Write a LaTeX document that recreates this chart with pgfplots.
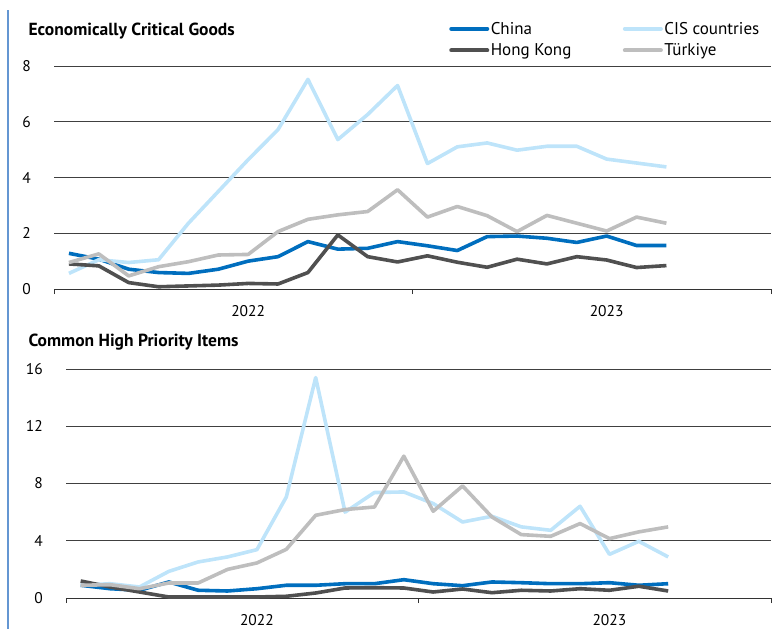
\documentclass[border=0pt]{standalone}
\usepackage{fontspec}
\setmainfont{PT Sans}
\usepackage{pgfplots}
\usepackage{pgfplotstable}
\pgfplotsset{compat=1.18}

\definecolor{chn}{RGB}{0,110,190}
\definecolor{cis}{RGB}{190,228,250}
\definecolor{hkg}{RGB}{80,80,80}
\definecolor{tur}{RGB}{190,190,190}
\definecolor{edge}{RGB}{100,150,210}

% Economically Critical Goods
\pgfplotstableread{
x    chn  cis  hkg  tur
0.5  1.28 0.56 0.90 0.95
1.5  1.07 1.05 0.83 1.26
2.5  0.71 0.95 0.23 0.47
3.5  0.59 1.05 0.08 0.80
4.5  0.56 2.36 0.11 0.98
5.5  0.71 3.50 0.14 1.22
6.5  1.00 4.64 0.20 1.24
7.5  1.16 5.72 0.18 2.06
8.5  1.70 7.52 0.59 2.50
9.5  1.43 5.36 1.94 2.66
10.5 1.46 6.26 1.16 2.78
11.5 1.70 7.30 0.97 3.56
12.5 1.55 4.50 1.19 2.58
13.5 1.38 5.10 0.96 2.96
14.5 1.88 5.24 0.78 2.63
15.5 1.90 4.98 1.07 2.06
16.5 1.82 5.12 0.90 2.64
17.5 1.67 5.12 1.16 2.36
18.5 1.90 4.66 1.04 2.08
19.5 1.56 4.52 0.77 2.58
20.5 1.56 4.38 0.84 2.36
}\topdata

% Common High Priority Items
\pgfplotstableread{
x    chn  cis   hkg  tur
0.5  0.89 0.89  1.19 0.89
1.5  0.65 1.00  0.77 0.93
2.5  0.54 0.77  0.42 0.65
3.5  1.12 1.86  0.07 1.05
4.5  0.54 2.52  0.07 1.05
5.5  0.49 2.87  0.07 2.00
6.5  0.65 3.38  0.07 2.45
7.5  0.89 7.06  0.12 3.40
8.5  0.89 15.40 0.35 5.78
9.5  1.00 6.00  0.70 6.18
10.5 1.00 7.37  0.72 6.36
11.5 1.28 7.41  0.70 9.91
12.5 1.00 6.60  0.42 6.06
13.5 0.86 5.31  0.63 7.83
14.5 1.12 5.71  0.37 5.66
15.5 1.07 4.97  0.54 4.43
16.5 1.00 4.73  0.49 4.31
17.5 1.00 6.41  0.65 5.20
18.5 1.07 3.05  0.54 4.15
19.5 0.89 3.96  0.82 4.62
20.5 1.00 2.87  0.49 4.97
}\botdata

\pgfplotsset{
  panel/.style={
    scale only axis, anchor=south west, clip=false,
    xmin=0, xmax=24,
    axis x line*=bottom, axis y line*=left,
    y axis line style={draw=none},
    x axis line style={black!80, line width=1pt, -},
    xtick={0,12,24}, xticklabels={},
    major tick length=5pt, tick align=outside,
    xtick style={black!80, line width=1pt},
    ytick style={draw=none},
    ymajorgrids, grid style={black!75, line width=0.9pt},
    extra x ticks={6.5,18.5}, extra x tick labels={2022,2023},
    extra x tick style={major tick length=0pt, grid=none,
      xticklabel style={inner sep=0pt, anchor=north, yshift=-16.5pt}},
    yticklabel style={anchor=east, inner sep=0pt, xshift=-18pt},
    /pgf/number format/assume math mode=true,
    tick label style={font=\fontsize{15.5}{18}\selectfont},
    every axis plot/.append style={line width=3.6pt, line join=round, no markers},
  }
}

\begin{document}
\begin{tikzpicture}
\useasboundingbox (0,0) rectangle (779pt,-629pt);
\draw[edge, line width=1.5pt] (8pt,-10pt) -- (8pt,-629pt);

\node[anchor=base west, font=\bfseries\fontsize{17.5}{20}\selectfont] at (25pt,-35pt) {Economically Critical Goods};
\node[anchor=base west, font=\bfseries\fontsize{17.5}{20}\selectfont] at (25pt,-346pt) {Common High Priority Items};

\begin{axis}[panel,
  at={(54pt,-289pt)}, width=717pt, height=223pt,
  ymin=0, ymax=8, ytick={0,2,4,6,8},
  legend columns=2,
  legend image code/.code={\draw[#1, line width=4pt, line cap=round] (0pt,0pt) -- (36pt,0pt);},
  legend style={draw=none, fill=none, at={(0.551,1.205)}, anchor=north west,
    inner sep=0pt, font=\fontsize{17}{20}\selectfont,
    nodes={inner sep=1.5pt}, cells={anchor=west},
    /tikz/every even column/.append style={column sep=50pt},
    /tikz/row sep=5pt},
]
\addplot[chn] table[x=x, y=chn] {\topdata};
\addlegendentry{China}
\addplot[cis] table[x=x, y=cis] {\topdata};
\addlegendentry{CIS countries}
\addplot[hkg] table[x=x, y=hkg] {\topdata};
\addlegendentry{Hong Kong}
\addplot[tur] table[x=x, y=tur] {\topdata};
\addlegendentry{Türkiye}
\end{axis}

\begin{axis}[panel,
  at={(66pt,-598pt)}, width=705pt, height=229pt,
  ymin=0, ymax=16, ytick={0,4,8,12,16},
]
\addplot[chn] table[x=x, y=chn] {\botdata};
\addplot[cis] table[x=x, y=cis] {\botdata};
\addplot[hkg] table[x=x, y=hkg] {\botdata};
\addplot[tur] table[x=x, y=tur] {\botdata};
\end{axis}
\end{tikzpicture}
\end{document}
